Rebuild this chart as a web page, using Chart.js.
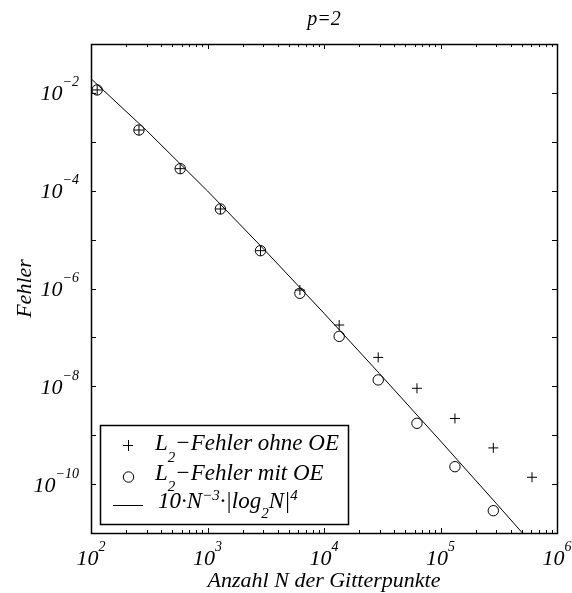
<!DOCTYPE html>
<html>
<head>
<meta charset="utf-8">
<script src="https://cdn.jsdelivr.net/npm/chart.js@4.4.0/dist/chart.umd.min.js"></script>
<style>
  html, body { margin: 0; padding: 0; background: #fff; }
  #wrap { width: 572px; height: 593px; }
</style>
</head>
<body>
<div id="wrap"><canvas id="chart" width="572" height="593"></canvas></div>
<script>
// number of grid points N
const gridPoints = [113, 258, 583, 1290, 2850, 6210, 13500, 29200, 62800, 133000, 284000, 610000];
// L2 error without / with OE
const errorWithoutOE = [1.15e-2, 1.74e-3, 2.82e-4, 4.23e-5, 5.93e-6, 9.3e-7, 1.79e-7, 3.9e-8, 9.1e-9, 2.2e-9, 5.5e-10, 1.38e-10];
const errorWithOE = [1.15e-2, 1.74e-3, 2.82e-4, 4.23e-5, 5.93e-6, 7.98e-7, 1.05e-7, 1.35e-8, 1.75e-9, 2.27e-10, 2.86e-11, null];
// reference curve 10*N^-3*|log2 N|^4
const boundN = [100, 300, 1000, 3000, 10000, 30000, 100000, 300000, 600000];
const boundValues = [1.95e-2, 1.70e-3, 9.87e-5, 6.6e-6, 3.12e-7, 1.81e-8, 7.61e-10, 4.06e-11, 6.28e-12];

const xTickExponents = [2, 3, 4, 5, 6];
const yTickExponents = [-1, -2, -3, -4, -5, -6, -7, -8, -9, -10, -11];
const yLabelExponents = [-2, -4, -6, -8, -10];

const SERIF = '"Liberation Serif", "Times New Roman", serif';
const font = size => `italic ${size}px ${SERIF}`;

// parts: [text, size, dy]
function drawRich(ctx, parts, x, y, align) {
    let total = 0;
    const widths = parts.map(p => {
        ctx.font = font(p[1]);
        const w = ctx.measureText(p[0]).width;
        total += w;
        return w;
    });
    let cx = x;
    if (align === 'center') cx = x - total / 2;
    if (align === 'right') cx = x - total;
    ctx.textAlign = 'left';
    ctx.textBaseline = 'alphabetic';
    parts.forEach((p, i) => {
        ctx.font = font(p[1]);
        ctx.fillText(p[0], cx, y + (p[2] || 0));
        cx += widths[i];
    });
    return total;
}

const matlabAxes = {
    id: 'matlabAxes',
    afterDatasetsDraw(chart) {
        const {ctx, chartArea: a, scales: {x, y}} = chart;
        ctx.save();
        ctx.strokeStyle = '#000';
        ctx.fillStyle = '#000';
        ctx.lineWidth = 1;

        // x ticks, inward on bottom and top
        ctx.beginPath();
        xTickExponents.forEach(e => {
            for (let m = 1; m <= 9; m++) {
                if (e === 6 && m > 1) break;
                const px = Math.round(x.getPixelForValue(m * Math.pow(10, e))) + 0.5;
                const len = m === 1 ? 5 : 3;
                ctx.moveTo(px, a.bottom);
                ctx.lineTo(px, a.bottom - len);
                ctx.moveTo(px, a.top);
                ctx.lineTo(px, a.top + len);
            }
        });
        // y ticks at every decade
        yTickExponents.forEach(e => {
            const py = Math.round(y.getPixelForValue(Math.pow(10, e))) + 0.5;
            ctx.moveTo(a.left, py);
            ctx.lineTo(a.left + 5, py);
            ctx.moveTo(a.right, py);
            ctx.lineTo(a.right - 5, py);
        });
        ctx.stroke();

        // frame
        ctx.lineWidth = 1.5;
        ctx.strokeRect(a.left + 0.5, a.top + 0.5, a.right - a.left, a.bottom - a.top);

        // tick labels
        xTickExponents.forEach(e => {
            const px = x.getPixelForValue(Math.pow(10, e));
            drawRich(ctx, [['10', 22, 0], [String(e), 14, -14]], px, a.bottom + 32, 'center');
        });
        yLabelExponents.forEach(e => {
            const py = y.getPixelForValue(Math.pow(10, e));
            drawRich(ctx, [['10', 22, 0], ['\u2212' + String(-e), 14, -14]], a.left - 12, py + 7.5, 'right');
        });

        // titles
        drawRich(ctx, [['p=2', 20, 0]], (a.left + a.right) / 2, 25, 'center');
        drawRich(ctx, [['Anzahl N der Gitterpunkte', 22, 0]], (a.left + a.right) / 2, 587, 'center');
        ctx.save();
        ctx.translate(31, (a.top + a.bottom) / 2);
        ctx.rotate(-Math.PI / 2);
        drawRich(ctx, [['Fehler', 22, 0]], 0, 0, 'center');
        ctx.restore();

        // legend box
        const lx = 100, ly = 425, lw = 248, lh = 99;
        ctx.fillStyle = '#fff';
        ctx.fillRect(lx, ly, lw, lh);
        ctx.fillStyle = '#000';
        ctx.lineWidth = 1.5;
        ctx.strokeRect(lx + 0.5, ly + 0.5, lw, lh);

        ctx.lineWidth = 1;
        // plus marker
        ctx.beginPath();
        ctx.moveTo(123, 445.5); ctx.lineTo(133, 445.5);
        ctx.moveTo(128.5, 440); ctx.lineTo(128.5, 451);
        ctx.stroke();
        // circle marker
        ctx.beginPath();
        ctx.arc(128.5, 477, 5.2, 0, Math.PI * 2);
        ctx.stroke();
        // line sample
        ctx.beginPath();
        ctx.moveTo(113, 505.5); ctx.lineTo(143, 505.5);
        ctx.stroke();

        const tx = 155;
        drawRich(ctx, [['L', 23, 0], ['2', 15, 12], ['\u2212Fehler ohne OE', 23, 0]], tx, 450, 'left');
        drawRich(ctx, [['L', 23, 0], ['2', 15, 11], ['\u2212Fehler mit OE', 23, 0]], tx, 480, 'left');
        drawRich(ctx, [['10\u00b7N', 23, 0], ['\u22123', 15, -8], ['\u00b7|log', 23, 0], ['2', 15, 10],
            ['N|', 23, 0], ['4', 15, -8]], 158, 508, 'left');
        ctx.restore();
    }
};

new Chart(document.getElementById('chart'), {
    type: 'scatter',
    data: {
        datasets: [
            {
                label: 'L2-Fehler ohne OE',
                data: gridPoints.map((n, i) => ({x: n, y: errorWithoutOE[i]})),
                showLine: false,
                pointStyle: 'cross',
                pointRadius: 5,
                borderColor: '#000',
                backgroundColor: 'rgba(0,0,0,0)',
                borderWidth: 1
            },
            {
                label: 'L2-Fehler mit OE',
                data: gridPoints.map((n, i) => ({x: n, y: errorWithOE[i]})).filter(p => p.y !== null),
                showLine: false,
                pointStyle: 'circle',
                pointRadius: 5.2,
                borderColor: '#000',
                backgroundColor: 'rgba(0,0,0,0)',
                borderWidth: 1
            },
            {
                label: '10*N^-3*|log2 N|^4',
                data: boundN.map((n, i) => ({x: n, y: boundValues[i]})),
                showLine: true,
                pointRadius: 0,
                borderColor: '#000',
                borderWidth: 1,
                tension: 0
            }
        ]
    },
    options: {
        responsive: false,
        animation: false,
        layout: {padding: {left: 91, right: 15, top: 44, bottom: 60}},
        plugins: {legend: {display: false}, tooltip: {enabled: false}},
        scales: {
            x: {type: 'logarithmic', min: 100, max: 1e6, display: false},
            y: {type: 'logarithmic', min: 1e-11, max: 1e-1, display: false}
        }
    },
    plugins: [matlabAxes]
});
</script>
</body>
</html>
